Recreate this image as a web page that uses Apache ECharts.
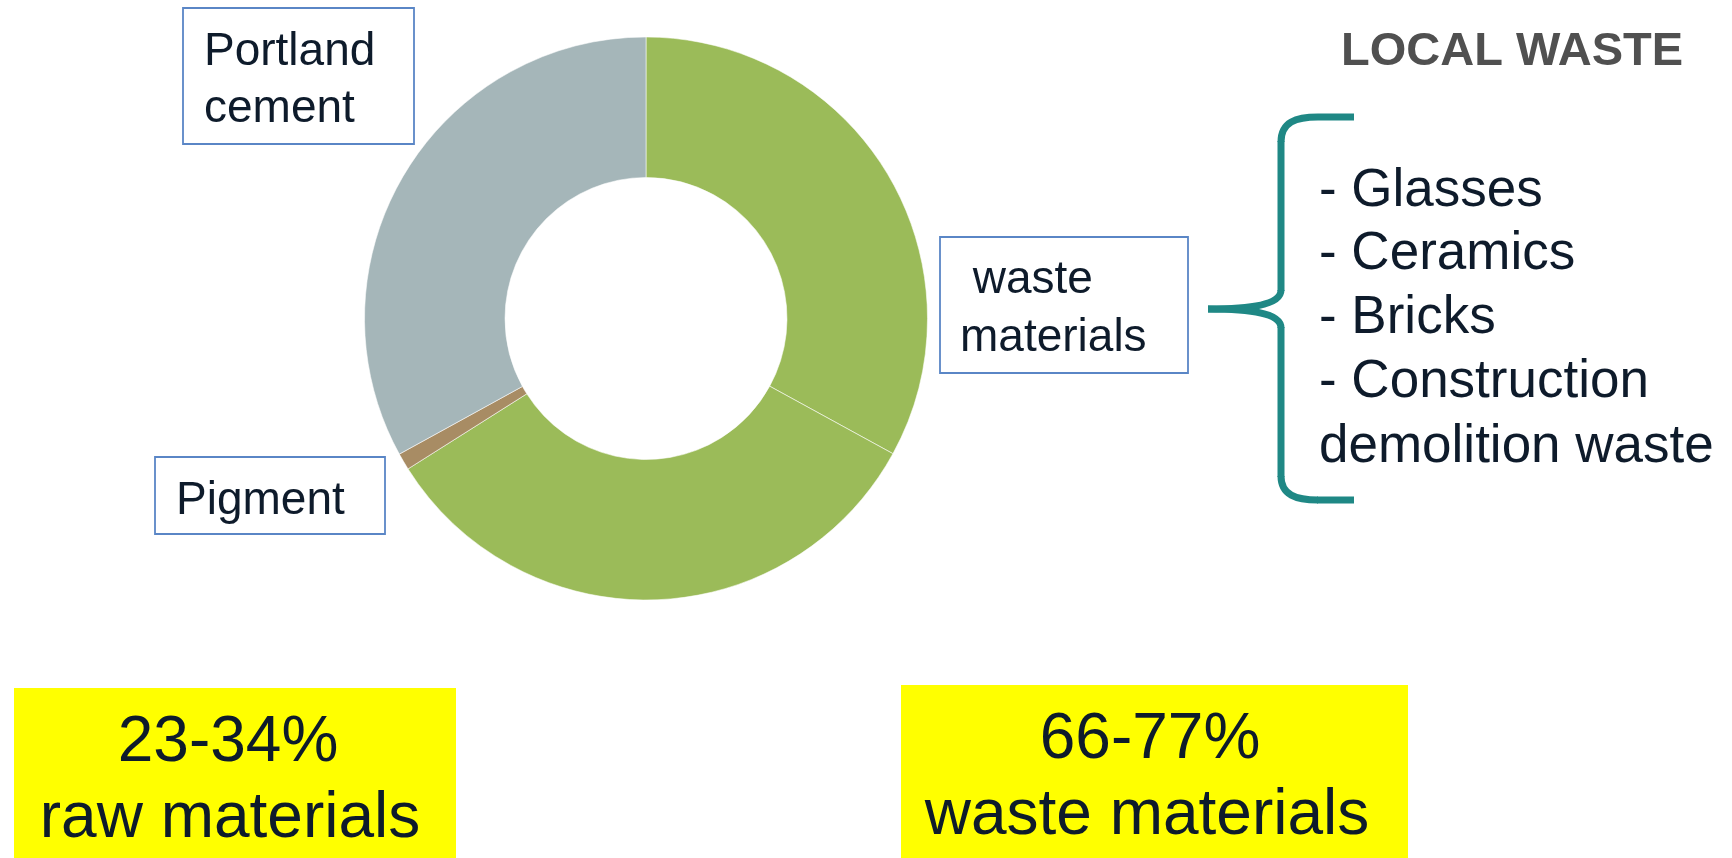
<!DOCTYPE html>
<html>
<head>
<meta charset="utf-8">
<script src="https://cdn.jsdelivr.net/npm/echarts@6/dist/echarts.min.js"></script>
<style>
html,body{margin:0;padding:0;background:#fff;}
#chart{width:1732px;height:858px;}
</style>
</head>
<body>
<div id="chart"></div>
<script>
// ---- data ----
const categories = ['waste materials', 'waste materials', 'Pigment', 'Portland cement'];
const values = [32.97, 33.06, 0.97, 33.0];
const sliceColors = ['#9BBB59', '#9BBB59', '#A88C64', '#A5B6B9'];
const boxLabels = [['Portland', 'cement'], [' waste', 'materials'], ['Pigment']];
const title = 'LOCAL WASTE';
const wasteList = ['- Glasses', '- Ceramics', '- Bricks', '- Construction', 'demolition waste'];
const summaryRaw = ['23-34%', 'raw materials'];
const summaryWaste = ['66-77%', 'waste materials'];

const FONT = '"Liberation Sans", Arial, Helvetica, sans-serif';
const TXT = '#0E1B2B';
const BOX = '#5A86C6';
const TEAL = '#1F8885';

function textEl(str, x, baseline, size, opts) {
  opts = opts || {};
  return {
    type: 'text', x: x, y: baseline - size * 0.27,
    style: {
      text: str, fontSize: size, fontFamily: FONT,
      fill: opts.fill || TXT, fontWeight: opts.bold ? 'bold' : 'normal',
      textAlign: opts.align || 'left', textVerticalAlign: 'middle'
    },
    silent: true, z: 10
  };
}
function rectEl(x, y, w, h, fill, stroke) {
  return {
    type: 'rect', shape: { x: x, y: y, width: w, height: h },
    style: { fill: fill || 'none', stroke: stroke || null, lineWidth: stroke ? 1.8 : 0 },
    silent: true, z: 5
  };
}
function lineEl(x1, y1, x2, y2) {
  return { type: 'line', shape: { x1: x1, y1: y1, x2: x2, y2: y2 },
    style: { stroke: TEAL, lineWidth: 7, lineCap: 'butt' }, silent: true, z: 5 };
}
function curveEl(x1, y1, c1x, c1y, c2x, c2y, x2, y2) {
  return { type: 'bezierCurve',
    shape: { x1: x1, y1: y1, cpx1: c1x, cpy1: c1y, cpx2: c2x, cpy2: c2y, x2: x2, y2: y2 },
    style: { stroke: TEAL, lineWidth: 7, fill: null, lineCap: 'butt' }, silent: true, z: 5 };
}

const g = [];
// Portland cement box
g.push(rectEl(183, 8, 231, 136, '#fff', BOX));
g.push(textEl(boxLabels[0][0], 204, 65, 46));
g.push(textEl(boxLabels[0][1], 204, 122, 46));
// waste materials box
g.push(rectEl(940, 237, 248, 136, '#fff', BOX));
g.push(textEl(boxLabels[1][0], 960, 293, 46));
g.push(textEl(boxLabels[1][1], 960, 351, 46));
// Pigment box
g.push(rectEl(155, 457, 230, 77, '#fff', BOX));
g.push(textEl(boxLabels[2][0], 176, 514, 46));
// Title
g.push(textEl(title, 1341, 65, 47, { bold: true, fill: '#505050' }));
// Brace
g.push(lineEl(1354, 117, 1318, 117));
g.push(curveEl(1318, 117, 1296, 117, 1281, 122, 1281, 142));
g.push(lineEl(1281, 141, 1281, 291));
g.push(curveEl(1281, 290, 1281, 306, 1245, 309, 1208, 309));
g.push(curveEl(1208, 309, 1245, 309, 1281, 312, 1281, 328));
g.push(lineEl(1281, 327, 1281, 477));
g.push(curveEl(1281, 476, 1281, 495, 1296, 500, 1318, 500));
g.push(lineEl(1317, 500, 1354, 500));
// list
const listBase = [206, 269, 333, 397, 462];
wasteList.forEach((s, i) => g.push(textEl(s, 1319, listBase[i], 53)));
// yellow boxes
g.push(rectEl(14, 688, 442, 170, '#FFFF00'));
g.push(rectEl(901, 685, 507, 173, '#FFFF00'));
g.push(textEl(summaryRaw[0], 228, 761, 64, { align: 'center' }));
g.push(textEl(summaryRaw[1], 230, 837, 64, { align: 'center' }));
g.push(textEl(summaryWaste[0], 1150, 758, 64, { align: 'center' }));
g.push(textEl(summaryWaste[1], 1147, 834, 64, { align: 'center' }));

const chart = echarts.init(document.getElementById('chart'), null, { renderer: 'canvas' });
chart.setOption({
  backgroundColor: '#ffffff',
  animation: false,
  series: [{
    type: 'pie',
    center: [646, 318.5],
    radius: [141, 281.5],
    startAngle: 90,
    clockwise: true,
    silent: true,
    avoidLabelOverlap: false,
    label: { show: false },
    labelLine: { show: false },
    itemStyle: { borderColor: 'rgba(255,255,255,0.55)', borderWidth: 1 },
    data: categories.map((c, i) => ({ name: c, value: values[i], itemStyle: { color: sliceColors[i] } }))
  }],
  graphic: g
});
</script>
</body>
</html>
